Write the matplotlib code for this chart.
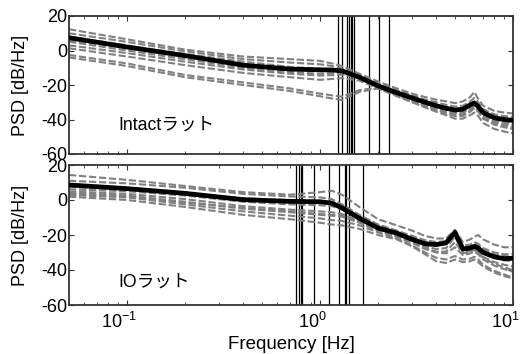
import matplotlib
matplotlib.use("Agg")
import matplotlib.pyplot as plt
import matplotlib.transforms as mtransforms
from matplotlib.ticker import LogLocator, NullFormatter

plt.rcParams['font.family'] = ['Liberation Sans', 'Noto Sans CJK JP', 'DejaVu Sans']
plt.rcParams['axes.unicode_minus'] = False
plt.rcParams['mathtext.fontset'] = 'custom'
plt.rcParams['mathtext.rm'] = 'Liberation Sans'
plt.rcParams['mathtext.it'] = 'Liberation Sans:italic'
plt.rcParams['mathtext.bf'] = 'Liberation Sans:bold'
plt.rcParams['mathtext.default'] = 'regular'

freq = [0.05, 0.1, 0.2, 0.4, 0.7, 1.0, 1.15, 1.3, 1.6, 2.0, 2.5, 3.0, 3.5,
        4.0, 4.5, 5.0, 5.5, 6.0, 6.3, 6.6, 7.0, 8.0, 9.0, 10.0]

# Intact rats
intact_mean = [7.4, 2.0, -3.0, -8.5, -10.8, -11.2, -11.3, -11.8, -15.5, -20.5, -24.5, -27.5, -30.0,
               -32.0, -33.5, -34.5, -34.0, -31.5, -30.5, -32.5, -36.0, -39.0, -40.0, -40.5]
intact_rats = [
    [12.3, 6.5, 0.5, -3.5, -5.0, -6.0, -7.5, -9.0, -13.5, -18.0, -22.0, -25.0, -27.0,
     -28.5, -29.5, -30.5, -29.5, -27.0, -24.0, -28.0, -32.0, -35.0, -36.0, -36.5],
    [10.0, 5.0, -0.5, -5.0, -7.0, -8.0, -9.0, -10.5, -14.5, -19.0, -23.0, -26.0, -28.5,
     -30.0, -31.5, -32.5, -32.0, -29.5, -27.5, -30.0, -34.0, -37.0, -38.0, -38.5],
    [8.0, 3.0, -2.0, -6.5, -9.5, -10.5, -11.0, -11.5, -15.0, -20.0, -24.0, -27.0, -29.5,
     -31.5, -33.0, -34.0, -33.5, -31.0, -29.5, -31.5, -35.5, -38.5, -39.5, -40.0],
    [6.0, 1.5, -3.5, -8.0, -11.0, -12.0, -12.3, -12.5, -16.5, -21.5, -26.0, -29.0, -31.5,
     -33.5, -35.0, -36.5, -36.0, -34.0, -32.0, -34.0, -37.5, -41.0, -42.5, -43.0],
    [5.1, 0.0, -5.0, -10.0, -12.5, -13.5, -13.3, -13.0, -16.0, -21.0, -25.5, -28.5, -31.0,
     -33.0, -35.0, -36.0, -35.5, -33.0, -31.5, -33.5, -37.0, -40.5, -41.5, -42.5],
    [3.0, -1.5, -6.5, -11.0, -13.5, -14.5, -14.3, -14.0, -16.0, -21.0, -26.0, -29.5, -32.5,
     -34.5, -36.5, -38.0, -38.0, -35.5, -33.5, -35.5, -39.5, -43.0, -44.5, -45.5],
    [1.3, -3.5, -8.5, -13.0, -15.5, -17.0, -16.5, -16.0, -17.5, -22.0, -26.5, -30.0, -33.0,
     -35.5, -37.5, -39.5, -39.5, -37.5, -36.0, -38.0, -42.0, -45.5, -47.0, -48.0],
    [-2.6, -7.5, -14.2, -18.5, -22.0, -25.0, -26.0, -26.8, -23.0, -21.5, -25.0, -28.0, -30.5,
     -32.5, -34.0, -35.0, -34.5, -32.5, -31.0, -33.5, -37.0, -40.0, -41.0, -41.5],
    [-4.0, -9.0, -15.5, -20.0, -23.5, -26.5, -27.8, -28.7, -24.0, -22.0, -26.0, -29.0, -32.0,
     -34.0, -36.0, -37.5, -37.0, -35.0, -33.0, -35.0, -38.5, -42.0, -43.5, -44.5],
]
intact_vlines = [1.240, 1.295, 1.385, 1.413, 1.443, 1.470, 1.495, 1.800, 2.022, 2.270]

# IO rats
io_mean = [8.6, 6.5, 3.8, 0.2, -0.8, -1.0, -1.8, -4.5, -10.5, -16.0, -19.0, -22.5, -25.0,
           -25.5, -24.5, -18.5, -28.0, -27.5, -26.5, -27.5, -30.0, -32.5, -33.5, -33.3]
io_rats = [
    [14.3, 11.5, 8.0, 4.5, 3.0, 4.5, 5.3, 3.0, -4.0, -11.0, -14.5, -17.5, -20.5,
     -22.0, -22.0, -17.0, -24.0, -22.5, -21.0, -20.0, -22.5, -25.5, -27.0, -27.0],
    [11.0, 9.5, 7.0, 3.5, 2.0, 1.5, 0.5, -2.5, -8.5, -14.0, -17.5, -20.5, -23.0,
     -24.0, -23.5, -17.5, -26.0, -25.5, -24.0, -25.0, -27.5, -30.0, -31.0, -31.0],
    [7.5, 6.0, 4.0, 1.0, 0.0, -0.5, -1.0, -3.5, -9.0, -14.5, -18.0, -21.5, -24.0,
     -24.5, -24.0, -18.0, -27.0, -26.5, -25.0, -26.0, -28.5, -31.0, -32.0, -32.5],
    [6.1, 5.0, 2.5, -1.0, -2.5, -3.0, -3.5, -5.5, -10.5, -15.5, -19.0, -22.5, -25.0,
     -25.5, -25.0, -19.5, -28.0, -27.5, -26.0, -27.5, -30.5, -33.0, -34.5, -35.0],
    [4.9, 3.5, 0.5, -3.5, -5.5, -6.5, -7.0, -8.0, -12.0, -16.5, -20.0, -23.5, -26.5,
     -28.0, -27.5, -21.0, -30.0, -29.0, -28.0, -29.5, -32.5, -35.5, -37.0, -38.0],
    [4.0, 2.5, -1.0, -5.0, -7.0, -8.5, -9.0, -9.5, -13.0, -17.5, -21.0, -24.5, -28.0,
     -30.0, -30.5, -27.0, -31.5, -30.5, -29.5, -31.0, -34.0, -37.5, -39.5, -41.0],
    [3.5, 2.0, -1.5, -4.5, -6.5, -8.0, -8.5, -9.0, -12.5, -17.0, -20.5, -24.0, -27.5,
     -29.5, -29.5, -24.0, -30.5, -29.5, -28.5, -30.0, -33.0, -36.5, -38.5, -40.0],
    [2.9, 1.5, -2.5, -6.5, -9.0, -10.5, -11.5, -12.0, -14.5, -18.5, -22.0, -26.0, -30.0,
     -33.0, -34.0, -32.0, -34.0, -33.5, -32.5, -34.0, -37.0, -40.5, -42.5, -44.5],
    [1.9, 0.0, -4.0, -8.5, -11.0, -13.0, -14.0, -14.5, -16.5, -20.0, -22.5, -26.5, -31.0,
     -35.0, -36.0, -34.0, -35.5, -35.0, -34.0, -35.5, -38.0, -41.5, -43.5, -44.8],
]
io_vlines = [0.751, 0.774, 0.792, 0.807, 0.933, 1.117, 1.257, 1.340, 1.364, 1.413, 1.667]

panel_labels = ['Intactラット', 'IOラット']
yticks = [-60, -40, -20, 0, 20]

fig = plt.figure(figsize=(5.23, 3.54), dpi=100)
ax1 = fig.add_axes([69/523, 1-154/354, 444/523, 138/354])
ax2 = fig.add_axes([69/523, 1-305/354, 444/523, 140/354])

panels = [(ax1, intact_rats, intact_mean, intact_vlines, panel_labels[0], -43),
          (ax2, io_rats, io_mean, io_vlines, panel_labels[1], -47)]

for ax, rats, mean, vl, label, ly in panels:
    for v in vl:
        ax.axvline(v, color='black', lw=0.9, zorder=1)
    for r in rats:
        ax.plot(freq, r, color='#808080', lw=1.5, ls=(0, (3.5, 1.3)), zorder=2)
    ax.plot(freq, mean, color='black', lw=3.4, zorder=3, solid_joinstyle='round')
    ax.set_xscale('log')
    ax.set_xlim(0.05, 10)
    ax.set_ylim(-60, 20)
    ax.set_yticks(yticks)
    ax.set_ylabel('PSD [dB/Hz]', fontsize=13)
    ax.yaxis.set_label_coords(-0.089, 0.5)
    ax.text(0.09, ly, label, fontsize=12.7, ha='left', va='center')
    ax.xaxis.set_major_locator(LogLocator(base=10))
    ax.xaxis.set_minor_locator(LogLocator(base=10, subs=range(2, 10)))
    ax.xaxis.set_minor_formatter(NullFormatter())
    ax.tick_params(which='both', direction='in', top=True, right=True, labelsize=13,
                   color='#333333', pad=1.5)
    ax.tick_params(axis='x', which='major', pad=5)
    ax.tick_params(which='major', length=3.5)
    ax.tick_params(which='minor', length=2)
    for s in ax.spines.values():
        s.set_linewidth(1.3)
        s.set_color('#333333')

ax1.tick_params(labelbottom=False)
ax2.set_xlabel('Frequency [Hz]', fontsize=13.5, labelpad=3)

fig.canvas.draw()
shift = mtransforms.ScaledTranslation(-8/100, 0, fig.dpi_scale_trans)
for lab in ax2.get_xticklabels():
    lab.set_transform(lab.get_transform() + shift)

fig.savefig('out.png', dpi=100)
